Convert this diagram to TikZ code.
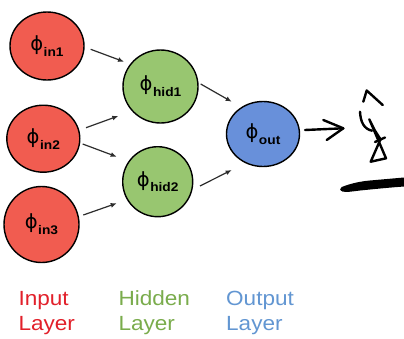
\documentclass[tikz,border=0pt]{standalone}
\usepackage{fontspec}
\setmainfont{Liberation Sans}
\newfontfamily\widesans[FakeStretch=1.1]{Liberation Sans}
\newfontfamily\phifont{DejaVu Sans}
\usetikzlibrary{shapes.geometric,arrows.meta}

\definecolor{inred}{RGB}{241,92,80}
\definecolor{hidgreen}{RGB}{152,198,112}
\definecolor{outblue}{RGB}{104,144,218}
\definecolor{txtred}{RGB}{226,32,42}
\definecolor{txtgreen}{RGB}{122,172,76}
\definecolor{txtblue}{RGB}{98,150,210}
\definecolor{arrowgray}{RGB}{45,45,45}

% neuron label: phi with a lowered subscript
\newcommand{\neuronlabel}[1]{{\phifont\fontsize{19.5}{19.5}\selectfont ϕ\hspace{0.5pt}\raisebox{-0.3em}{\widesans\bfseries\fontsize{12.5}{12.5}\selectfont #1}}}

\tikzset{
  neuron/.style={ellipse, draw=black, line width=1.4pt, inner sep=0pt, text=black},
  link/.style={draw=arrowgray, line width=1.2pt, -{Latex[length=6pt,width=5pt]}},
  pen/.style={draw=black, line width=2.4pt, line cap=round, line join=round},
  layertext/.style={anchor=base west, inner sep=0pt, font=\widesans\fontsize{20.5}{20.5}\selectfont}
}

\begin{document}
\begin{tikzpicture}[x=1pt,y=-1pt]
\useasboundingbox[fill=white] (0,0) rectangle (404,338);

% neurons
\node[neuron, fill=inred, minimum width=74pt, minimum height=68pt] (in1) at (47,46) {\neuronlabel{in1}};
\node[neuron, fill=inred, minimum width=73pt, minimum height=67pt] (in2) at (43.3,138.7) {\neuronlabel{in2}};
\node[neuron, fill=inred, minimum width=75pt, minimum height=76pt] (in3) at (41.5,224.5) {\neuronlabel{in3}};
\node[neuron, fill=hidgreen, minimum width=75pt, minimum height=73pt] (hid1) at (160.5,86.5) {\neuronlabel{hid1}};
\node[neuron, fill=hidgreen, minimum width=70pt, minimum height=70pt] (hid2) at (157.7,181.7) {\neuronlabel{hid2}};
\node[neuron, fill=outblue, minimum width=73pt, minimum height=65pt] (out) at (263,134) {\neuronlabel{out}};

% connections
\draw[link] ([shift={(43.7,3.3)}]in1.center) -- ([shift={(-36.5,-24.8)}]hid1.center);
\draw[link] ([shift={(42.7,-11)}]in2.center) -- ([shift={(-42.2,29.5)}]hid1.center);
\draw[link] ([shift={(39.4,5.3)}]in2.center) -- ([shift={(-41,-25)}]hid2.center);
\draw[link] ([shift={(41.8,-9.5)}]in3.center) -- ([shift={(-41,21.6)}]hid2.center);
\draw[link] ([shift={(40.2,-2.5)}]hid1.center) -- ([shift={(-31.3,-32.3)}]out.center);
\draw[link] ([shift={(42.3,4.3)}]hid2.center) -- ([shift={(-31.3,36)}]out.center);

% handwritten output arrow
\coordinate (tip) at ([shift={(80.3,-5.7)}]out.center);
\draw[pen] ([shift={(42,-4)}]out.center) -- (tip);
\draw[pen] ([shift={(60.3,-14)}]out.center) -- (tip) -- ([shift={(63.7,6)}]out.center);

% handwritten y-hat, written sideways
\draw[pen] (363.3,101.7) -- (366.7,90.5) -- (382.7,105);
\draw[pen] (360,111.7) .. controls (360.5,122) and (364,129) .. (372,130.7);
\draw[pen] (369.3,119.3) -- (375,130.7) -- (380.5,139.3) -- (370.7,161.7) -- (386,158.3) -- cycle;
\draw[pen] (375,142) -- (385,137.5);

% scribbled underline
\fill[black] (341.7,187) .. controls (352,183) and (362,181) .. (373.3,180.2)
  -- (404,177.5) -- (404,186.5)
  .. controls (390,187.5) and (375,189) .. (360,190.5)
  .. controls (352,191.5) and (346,192.5) .. (342.5,191.5)
  .. controls (339.5,190.5) and (339.5,188) .. (341.7,187) -- cycle;

% layer captions
\node[layertext, text=txtred] (inA) at (18.3,305) {Input};
\node[layertext, text=txtred] (inB) at (18.3,330) {Layer};
\node[layertext, text=txtgreen] (hidA) at (118.3,305) {Hidden};
\node[layertext, text=txtgreen] (hidB) at (118.3,330) {Layer};
\node[layertext, text=txtblue] (outA) at (226,305) {Output};
\node[layertext, text=txtblue] (outB) at (226,330) {Layer};
\end{tikzpicture}
\end{document}
